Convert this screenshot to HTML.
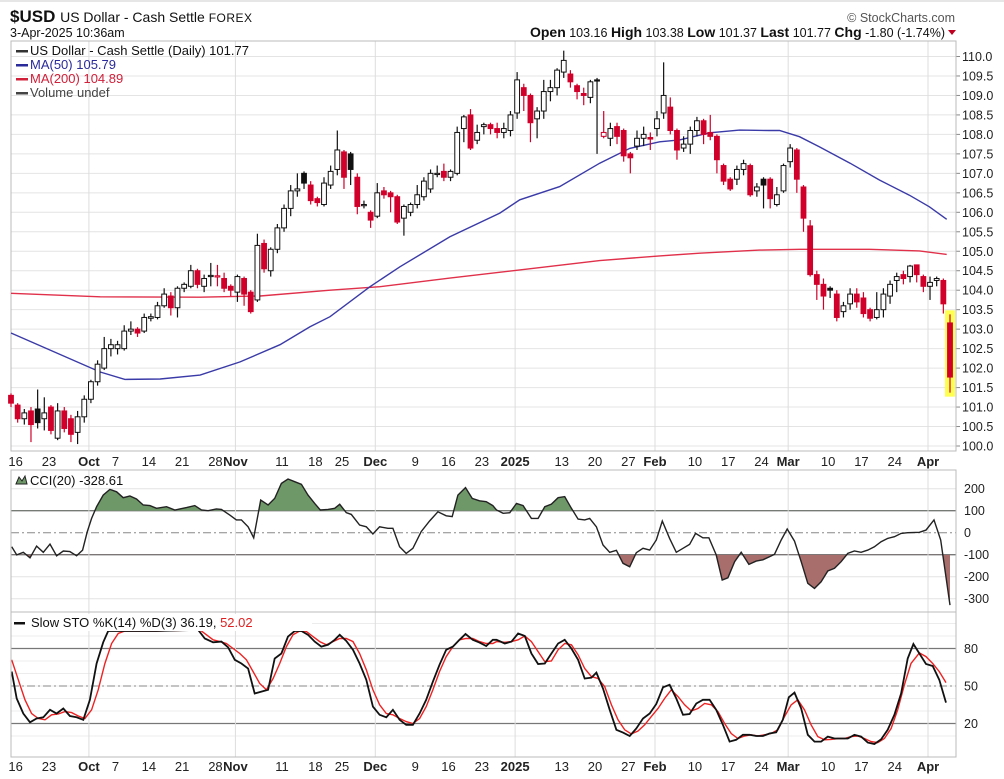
<!DOCTYPE html>
<html><head><meta charset="utf-8">
<style>
html,body{margin:0;padding:0;background:#fff;}
svg{display:block;font-family:"Liberation Sans",sans-serif;}
</style></head>
<body>
<svg id="chart" width="1004" height="779" viewBox="0 0 1004 779" xmlns="http://www.w3.org/2000/svg">
<line x1="0" y1="1" x2="1004" y2="1" stroke="#ccc" stroke-width="1"/>
<text x="10" y="22" font-size="17" font-weight="bold" fill="#111">$USD <tspan font-size="14" font-weight="normal">US Dollar - Cash Settle </tspan><tspan font-size="12" font-weight="normal" letter-spacing="0.5">FOREX</tspan></text>
<text x="955" y="22" font-size="12.5" fill="#555" text-anchor="end">© StockCharts.com</text>
<text x="10" y="37" font-size="12.5" fill="#111">3-Apr-2025 10:36am</text>
<text x="945" y="37" font-size="12.5" fill="#111" text-anchor="end"><tspan font-weight="bold" font-size="14">Open</tspan> 103.16  <tspan font-weight="bold" font-size="14">High</tspan> 103.38  <tspan font-weight="bold" font-size="14">Low</tspan> 101.37  <tspan font-weight="bold" font-size="14">Last</tspan> 101.77  <tspan font-weight="bold" font-size="14">Chg</tspan> -1.80 (-1.74%)</text>
<polygon points="948,30 956,30 952,35" fill="#c00020"/>
<g id="main"></g>
<g id="cci"></g>
<g id="sto"></g>
</svg>
<script>
// ---------- data ----------
const opens=[101.3,101.05,100.7,100.9,100.95,100.7,101.0,100.2,100.9,100.7,100.35,100.75,101.2,101.65,102.0,102.5,102.5,102.5,102.95,103.0,102.95,103.28,103.3,103.6,103.85,103.55,104.05,104.1,104.5,104.1,104.35,104.35,104.3,104.1,103.95,104.3,103.95,103.75,105.2,104.5,105.05,105.6,106.1,106.55,107.0,106.7,106.35,106.2,106.7,
107.1,107.55,107.5,106.9,106.2,106.0,105.9,106.55,106.5,106.4,105.85,106.0,106.2,106.4,106.6,107.0,107.05,106.9,107.0,108.15,108.5,107.85,108.2,108.25,108.15,108.05,108.1,108.55,109.2,109.0,108.4,108.6,109.1,109.2,109.6,109.55,109.25,109.05,108.95,109.4,107.95,107.9,108.2,108.1,107.5,107.7,107.9,107.92,108.15,
108.55,108.7,108.1,107.65,107.75,108.1,108.35,108.05,107.95,107.2,106.85,106.85,107.1,107.2,106.55,106.85,106.85,106.2,106.55,107.3,107.6,106.65,105.65,104.4,104.15,104.05,103.9,103.45,103.65,103.9,103.8,103.5,103.3,103.5,103.85,104.25,104.4,104.35,104.65,104.35,104.1,104.25,104.25,103.16];
const highs=[101.35,101.1,100.95,101.0,101.45,101.25,101.05,101.1,101.0,100.8,100.9,101.3,101.7,102.2,102.8,102.75,102.7,103.1,103.2,103.05,103.4,103.4,103.7,104.05,103.95,104.1,104.2,104.65,104.55,104.4,104.7,104.65,104.45,104.15,104.4,104.35,104.0,105.45,105.3,105.1,105.7,106.2,106.7,107.0,107.05,106.8,106.4,106.9,107.2,
108.1,107.6,107.55,107.0,106.3,106.05,106.75,106.65,106.55,106.45,106.2,106.25,106.7,106.9,107.1,107.2,107.25,107.1,108.2,108.5,108.65,108.25,108.3,108.3,108.3,108.3,108.6,109.6,109.3,109.05,108.7,109.4,109.4,109.7,110.15,109.65,109.3,109.2,109.4,109.45,108.6,108.3,108.3,108.15,107.55,108.1,108.2,108.05,108.6,
109.85,108.95,108.15,107.95,108.2,108.45,108.4,108.5,108.0,107.25,106.9,107.2,107.35,107.25,106.75,106.9,106.9,106.65,107.25,107.75,107.65,106.7,105.8,104.5,104.3,104.1,104.0,103.7,104.05,104.05,103.95,103.55,103.95,104.05,104.25,104.45,104.5,104.65,104.65,104.4,104.35,104.35,104.3,103.38];
const lows=[101.0,100.6,100.55,100.1,100.45,100.4,100.3,100.15,100.35,100.1,100.05,100.6,101.1,101.55,101.95,102.3,102.35,102.45,102.85,102.8,102.9,103.2,103.25,103.55,103.35,103.3,103.95,104.05,104.05,103.95,104.1,104.1,103.95,103.85,103.7,103.6,103.4,103.7,104.45,104.35,104.95,105.5,105.9,106.4,106.6,106.2,106.15,106.15,106.6,
106.95,106.6,106.7,105.95,106.1,105.6,105.85,106.35,106.0,105.7,105.4,105.9,106.1,106.3,106.5,106.9,106.8,106.8,106.95,107.8,107.6,107.75,108.0,108.0,107.9,107.9,107.95,108.4,108.6,107.8,107.9,108.4,108.85,109.0,109.45,109.2,108.9,108.75,108.8,107.5,107.9,107.7,107.75,107.3,107.0,107.6,107.7,107.6,107.95,
108.4,108.0,107.35,107.55,107.5,107.95,107.75,107.85,107.0,106.7,106.55,106.7,106.95,106.4,106.4,106.1,106.1,106.15,106.5,107.15,106.5,105.5,104.35,103.75,103.5,103.8,103.2,103.3,103.5,103.55,103.3,103.2,103.25,103.3,103.65,103.95,104.15,104.2,104.2,103.95,103.75,104.1,103.4,101.37];
const closes=[101.1,100.7,100.85,100.55,100.6,100.85,100.4,100.9,100.45,100.3,100.75,101.2,101.65,102.1,102.5,102.6,102.6,102.95,103.0,102.9,103.3,103.32,103.6,103.9,103.55,104.05,104.15,104.5,104.15,104.3,104.38,104.37,104.05,104.0,104.35,103.9,103.45,105.15,104.55,105.05,105.6,106.1,106.55,106.6,106.75,106.3,106.25,106.75,107.05,
107.6,106.9,107.1,106.15,106.2,105.8,106.5,106.45,106.4,105.75,106.15,106.2,106.45,106.8,107.0,107.0,106.9,107.05,108.05,108.45,107.65,108.05,108.25,108.15,108.05,108.15,108.5,109.4,109.0,108.3,108.6,109.1,109.2,109.65,109.9,109.35,109.1,109.0,109.35,109.38,108.05,108.15,107.95,107.45,107.4,107.9,108.0,107.88,108.4,
109.0,108.1,107.6,107.75,108.1,108.35,108.0,107.95,107.35,106.8,106.6,107.1,107.25,106.45,106.65,106.7,106.35,106.45,107.2,107.65,106.85,105.85,104.4,104.15,103.85,104.0,103.3,103.6,103.9,103.7,103.4,103.28,103.5,103.9,104.15,104.35,104.3,104.62,104.4,104.1,104.2,104.3,103.65,101.77];
// moving averages (day index, value)
const maIdx50=[0,13.4,17.1,22.4,28.4,34.4,40.4,44.9,47.9,53.9,58.4,65.9,73.4,76.4,82.4,88.4,92.9,97.4,100.4,104.9,109.4,113.9,115.4,118.4,121.4,126.0,130.4,134.9,137.9,140.5];
const ma50=[102.9,101.9,101.71,101.72,101.82,102.16,102.6,103.06,103.32,104.09,104.6,105.37,105.98,106.32,106.66,107.26,107.64,107.81,107.86,108.04,108.11,108.1,108.1,107.94,107.68,107.26,106.83,106.44,106.14,105.82];
const maIdx200=[0,13.4,28.4,37.4,47.9,55.4,65.9,76.4,88.4,97.4,103.4,112.4,118.4,128.9,136.4,140.5];
const ma200=[103.92,103.83,103.82,103.85,104.0,104.09,104.31,104.52,104.76,104.88,104.95,105.03,105.05,105.05,105.01,104.92];
// CCI(20)
const cciIdx=[0.1,0.85,1.85,2.85,3.85,4.85,5.85,6.85,7.85,8.85,9.85,10.75,11.45,12.1,12.85,13.85,14.85,15.85,16.85,17.85,18.85,19.85,20.85,21.85,23.35,24.6,26.35,27.6,28.6,29.6,30.85,31.6,32.85,33.85,34.6,35.6,36.45,37.5,38.6,39.6,40.6,41.6,42.6,43.6,44.6,45.6,46.45,47.6,48.6,49.35,50.35,51.1,52.35,53.35,54.35,55.35,56.6,57.35,58.35,59.35,60.35,61.6,62.85,64.1,65.35,66.25,67.1,68.25,69.25,70.35,71.35,72.35,72.9,73.9,74.9,75.9,76.9,78.15,79.15,80.15,81.15,82.15,83.15,84.15,85.15,86.15,86.9,87.9,88.9,89.9,90.9,91.9,92.9,93.9,94.9,95.9,96.9,97.8,98.9,99.9,100.9,101.9,102.8,103.9,104.8,105.9,106.8,107.65,108.65,109.65,110.8,111.9,112.9,113.9,114.65,115.65,116.55,117.65,118.65,119.65,120.65,121.65,122.65,123.65,124.65,125.65,126.65,127.65,128.65,129.65,130.65,131.65,132.65,133.65,134.65,136.4,137.4,138.6,139.6,141];
const cciVal=[-64,-101,-89,-114,-61,-89,-52,-105,-83,-86,-105,-79,5,65,118,171,197,186,159,167,153,126,123,111,118,103,114,123,103,100,108,106,80,58,58,27,-23,148,126,156,224,244,232,220,171,133,103,106,111,129,91,83,35,27,-6,27,20,20,-64,-94,-71,5,53,95,77,73,171,205,156,145,141,123,103,88,91,133,123,65,65,118,130,159,164,111,62,58,65,27,-56,-89,-80,-139,-155,-91,-71,-79,-33,53,-26,-89,-71,-53,-3,-23,-23,-101,-215,-205,-132,-89,-144,-129,-123,-109,-98,-33,17,-38,-132,-230,-253,-223,-174,-162,-132,-94,-83,-89,-79,-64,-41,-26,-18,-3,0,2,12,58,-33,-329];
const cciTicks=[200,100,0,-100,-200,-300];
// Slow stochastic %K
const kIdx=[0.1,0.85,1.85,2.85,3.85,4.85,5.85,6.85,7.85,8.85,9.85,10.85,11.85,12.85,13.85,14.6,15.6,21.85,28.1,29.1,30.35,
31.6,32.6,33.6,34.6,35.6,36.6,37.6,38.6,39.6,40.6,41.6,42.6,43.6,44.6,45.6,46.6,47.6,48.6,
49.35,50.35,51.35,52.35,53.35,54.35,55.35,56.35,57.35,58.35,59.35,60.35,61.35,62.35,63.35,64.35,65.35,66.35,67.35,
68.25,69.35,70.35,71.35,72.35,
72.9,74.15,75.15,76.15,77.15,78.15,79.15,80.15,81.15,82.15,83.15,84.15,85.15,86.15,87.15,
87.9,88.9,89.9,90.9,91.9,92.9,93.9,94.9,95.9,96.9,97.9,98.9,99.9,100.9,101.9,102.9,103.9,104.9,105.9,106.9,107.9,108.9,109.9,110.9,111.9,112.9,113.9,114.9,115.9,
116.8,117.65,118.65,119.65,120.65,121.65,122.65,123.65,124.65,125.65,126.65,127.65,128.65,129.65,130.65,131.65,132.65,133.65,134.65,
135.5,136.4,137.4,138.4,139.4,140.4];
const kVal=[61.5,40,28,21,24,25,31,28,32,26,25,23,39,68,85,94,94,94,95,88,85,
85.5,81,71,68,64,44,45.5,47,72,76,89.5,94,94,91,85.5,81.5,83,87,
91,86,79,68,55,33.5,27,25,31,23,19,19,28,39,53.5,67,79,81.5,87,
91.6,87,84.7,82,87,
87,84,85.5,92,90,76,67.6,68,76,84,87,80,71,56,56.7,
60.7,48,31,15,12.7,10,16,24,28,35.6,49,51,40,27,27.6,36,39,39,31,19,5.5,7,11,11,10,10,12,13,23,
41,44.7,32,11,5.5,5.5,9.5,8,8,8,11,9.5,4.7,3.6,7.3,15,27,44,72,
83.6,76,67.6,66,55,36.7];
// Slow stochastic %D
const dIdx=[0.1,1.1,2.1,3.1,4.1,5.1,6.1,7.1,8.1,9.1,10.1,11.1,12.1,13.1,14.1,15.1,16.1,17.1,21.85,
28.35,29.35,30.35,31.35,32.35,33.35,34.35,35.35,36.35,37.35,38.35,39.35,40.35,41.35,42.35,43.35,44.35,45.35,46.35,47.35,48.35,49.35,50.35,51.35,52.35,53.35,54.35,55.35,56.35,57.35,58.35,59.35,60.35,61.35,62.35,63.35,64.35,65.35,66.35,67.35,68.35,69.35,70.35,71.35,72.35,
72.9,74.15,75.15,76.15,77.15,78.15,79.15,80.15,81.15,82.15,83.15,84.15,85.15,86.15,87.15,88.15,89.15,90.15,91.15,92.15,93.15,94.15,95.15,96.15,97.15,98.15,99.15,100.15,101.15,102.15,103.15,104.15,105.15,106.15,107.15,108.15,109.15,110.15,111.15,112.15,113.15,114.15,115.15,116.15,117.15,118.15,119.15,120.15,121.15,122.15,123.15,124.15,125.15,126.15,127.15,128.15,129.15,130.15,131.15,132.15,133.15,134.15,135.15,
136.4,137.4,138.4,139.4,140.4];
const dVal=[71,55,39,28,24,23,27,27.6,29.5,28.7,26,24,31,47,68,84,92,94,94,
95,91,87,85.5,84,80,76,71,61.5,52,47,56,68,81.5,91,94,93.5,89.5,85.5,83,85.5,88,88,85.5,76,63,47,35,28,27,24,21.5,20,24,33.5,47,61.5,73.5,81.5,87,88,88,85.5,84,84,
85.5,85,85.5,87,90,85.5,77.5,69.5,70,79,84,83,75,64,57.5,56,49.5,35,23,15,11.6,14,19,25.5,32,40,47,41.5,35,30,32,36,35,29.5,20,12,8,10,11,10,11,12,15,25.5,35,39,31,19,9.5,7,7.3,8,8,9.5,10,8,5.5,4.7,8,16,31,51,68,
76.5,73.5,68,61.5,52.7];
const stoTicks=[80,50,20];
const priceTicks=[110.0,109.5,109.0,108.5,108.0,107.5,107.0,106.5,106.0,105.5,105.0,104.5,104.0,103.5,103.0,102.5,102.0,101.5,101.0,100.5,100.0];
const dateLabels=["16","23","Oct","7","14","21","28","Nov","11","18","25","Dec","9","16","23","2025","13","20","27","Feb","10","17","24","Mar","10","17","24","Apr"];
const dateIdx=[1,6,12,16,21,26,31,34,41,46,50,55,61,66,71,76,83,88,93,97,103,108,113,117,123,128,133,138];
const monthLabel=[false,false,true,false,false,false,false,true,false,false,false,true,false,false,false,true,false,false,false,true,false,false,false,true,false,false,false,true];

// ---------- layout / scales ----------
const NS="http://www.w3.org/2000/svg";
const L=11, R=956, X0=11, XSTEP=(950-11)/141;
const xS=i=>X0+i*XSTEP;
const MT=41, MB=451;
const yP=p=>56.5+(110-p)*38.95;
const CT=470, CB=612;
const yC=v=>532.7-v*0.22;
const ST=612, SB=757;
const yS=v=>686-(v-50)*1.25;
function mk(tag,attrs,parent){const e=document.createElementNS(NS,tag);for(const k in attrs)e.setAttribute(k,attrs[k]);parent.appendChild(e);return e;}
const gM=document.getElementById('main'), gC=document.getElementById('cci'), gS=document.getElementById('sto');

function panelFrame(g,top,bot,name){
  const r=mk('rect',{x:L,y:top,width:R-L,height:bot-top,fill:'none',stroke:'#bbb','stroke-width':1},g);
  
  
}
function monthGrid(g,top,bot){
  dateIdx.forEach((d,k)=>{ if(!monthLabel[k])return;
    const l=mk('line',{x1:xS(d)-2,x2:xS(d)-2,y1:top,y2:bot,stroke:'#ddd','stroke-width':1},g);
    
    
  });
}
function linePath(idx,val,ys){const n=Math.min(idx.length,val.length);let s='';for(let k=0;k<n;k++)s+=(k?'L':'M')+xS(idx[k]).toFixed(1)+','+ys(val[k]).toFixed(1);return s;}

// ---------- main price panel ----------
priceTicks.forEach(p=>{
  const l=mk('line',{x1:L,x2:R,y1:yP(p),y2:yP(p),stroke:'#e4e4e4','stroke-width':1},gM);
  
  
  const tk=mk('line',{x1:R,x2:R+4,y1:yP(p),y2:yP(p),stroke:'#888','stroke-width':1},gM);
  
  
  const t=mk('text',{x:R+6,y:yP(p)+4.5,'font-size':12.5,fill:'#222'},gM);
  t.textContent=p.toFixed(1);
  
  
});
monthGrid(gM,MT,MB);
panelFrame(gM,MT,MB,'price-panel');
{const n=closes.length-1;
 const hl=mk('rect',{x:xS(n)-5,y:yP(highs[n])-4,width:10,height:yP(lows[n])-yP(highs[n])+8,fill:'#ffff33',opacity:0.85},gM);
 
 }
{const p=mk('path',{d:linePath(maIdx200,ma200,yP),fill:'none',stroke:'#e0304a','stroke-width':1.4},gM);
  
 const q=mk('path',{d:linePath(maIdx50,ma50,yP),fill:'none',stroke:'#3a3aa8','stroke-width':1.4},gM);
  }
closes.forEach((c,i)=>{
  const o=opens[i], prev=i?closes[i-1]:o;
  const col=c<prev?'#d0002a':'#111';
  const hollow=c>=o;
  const x=xS(i);
  const g=mk('g',{},gM);
  
  
  mk('line',{x1:x,x2:x,y1:yP(highs[i]),y2:yP(lows[i]),stroke:col,'stroke-width':1.2},g);
  const top=yP(Math.max(o,c)), h=Math.max(1.2,Math.abs(yP(o)-yP(c)));
  mk('rect',{x:x-2.4,y:top,width:4.8,height:h,fill:hollow?'#fff':col,stroke:col,'stroke-width':1},g);
});
[["US Dollar - Cash Settle (Daily) 101.77","#111","legend-price"],["MA(50) 105.79","#2a2a9a","legend-ma50"],["MA(200) 104.89","#d0203a","legend-ma200"],["Volume undef","#444","legend-volume"]].forEach((e,k)=>{
  const y=55+k*14;
  const t=mk('text',{x:30,y:y,'font-size':13,fill:e[1]},gM);
  t.textContent=e[0];
  
  
  const ic=mk('rect',{x:16,y:y-5,width:12,height:2.5,fill:k==0?'#333':e[1]},gM);
  
  
});
dateLabels.forEach((s,k)=>{
  const t=mk('text',{x:xS(dateIdx[k])-2,y:466,'font-size':13,'text-anchor':'middle',fill:'#222','font-weight':monthLabel[k]?'bold':'normal'},gM);
  t.textContent=s;
  
  
});

// ---------- CCI panel ----------
cciTicks.forEach(v=>{
  const strong=(v===100||v===-100);
  const l=mk('line',{x1:L,x2:R,y1:yC(v),y2:yC(v),stroke:strong?'#777':(v===0?'#888':'#e4e4e4'),'stroke-width':strong?1.3:1,'stroke-dasharray':v===0?'8,3,2,3':'none'},gC);
  
  
  const t=mk('text',{x:R+8,y:yC(v)+4.5,'font-size':12.5,fill:'#222'},gC);
  t.textContent=v;
  
  
});
monthGrid(gC,CT,CB);
{
  const defs=mk('defs',{},gC);
  const c1=mk('clipPath',{id:'cAbove'},defs); mk('rect',{x:L,y:CT,width:R-L,height:yC(100)-CT},c1);
  const c2=mk('clipPath',{id:'cBelow'},defs); mk('rect',{x:L,y:yC(-100),width:R-L,height:CB-yC(-100)},c2);
  const base=linePath(cciIdx,cciVal,yC);
  const x0=xS(cciIdx[0]).toFixed(1), x1=xS(cciIdx[cciIdx.length-1]).toFixed(1);
  const fa=mk('path',{d:base+'L'+x1+','+yC(100)+'L'+x0+','+yC(100)+'Z',fill:'#6f9868','clip-path':'url(#cAbove)'},gC);
   
  const fb=mk('path',{d:base+'L'+x1+','+yC(-100)+'L'+x0+','+yC(-100)+'Z',fill:'#a86e6c','clip-path':'url(#cBelow)'},gC);
   
  const ln=mk('path',{d:base,fill:'none',stroke:'#222','stroke-width':1.4},gC);
   
}
panelFrame(gC,CT,CB,'cci-panel');
{const t=mk('text',{x:30,y:485,'font-size':13,fill:'#111'},gC);
 t.textContent='CCI(20) -328.61';
  
 const ic=mk('path',{d:'M16,484 L19,477 L22,481 L25,476 L27,484 Z',fill:'#6f9868',stroke:'#222','stroke-width':1},gC);
  }

// ---------- Slow STO panel ----------
for(let v=10;v<=100;v+=10){
  const l=mk('line',{x1:L,x2:R,y1:yS(v),y2:yS(v),stroke:'#ececec','stroke-width':1},gS);
  
  
}
stoTicks.forEach(v=>{
  const l=mk('line',{x1:L,x2:R,y1:yS(v),y2:yS(v),stroke:v===50?'#888':'#777','stroke-width':v===50?1:1.3,'stroke-dasharray':v===50?'8,3,2,3':'none'},gS);
  
  
  const t=mk('text',{x:R+8,y:yS(v)+4.5,'font-size':12.5,fill:'#222'},gS);
  t.textContent=v;
  
  
});
monthGrid(gS,ST,SB);
{const d=mk('path',{d:linePath(dIdx,dVal,yS),fill:'none',stroke:'#ee2222','stroke-width':1.4},gS);
  
 const k=mk('path',{d:linePath(kIdx,kVal,yS),fill:'none',stroke:'#111','stroke-width':1.8},gS);
  }
panelFrame(gS,ST,SB,'sto-panel');
{const bg=mk('rect',{x:12,y:614,width:300,height:17,fill:'#fff'},gS);
  
 const sw=mk('rect',{x:14,y:622,width:11,height:2.5,fill:'#111'},gS);
  
 const t=mk('text',{x:31,y:627,'font-size':13,fill:'#111'},gS);
 t.innerHTML='Slow STO %K(14) %D(3) 36.19, <tspan fill="#e02020">52.02</tspan>';
  }
dateLabels.forEach((s,k)=>{
  const t=mk('text',{x:xS(dateIdx[k])-2,y:771,'font-size':13,'text-anchor':'middle',fill:'#222','font-weight':monthLabel[k]?'bold':'normal'},gS);
  t.textContent=s;
  
  
});
</script>
</body></html>
